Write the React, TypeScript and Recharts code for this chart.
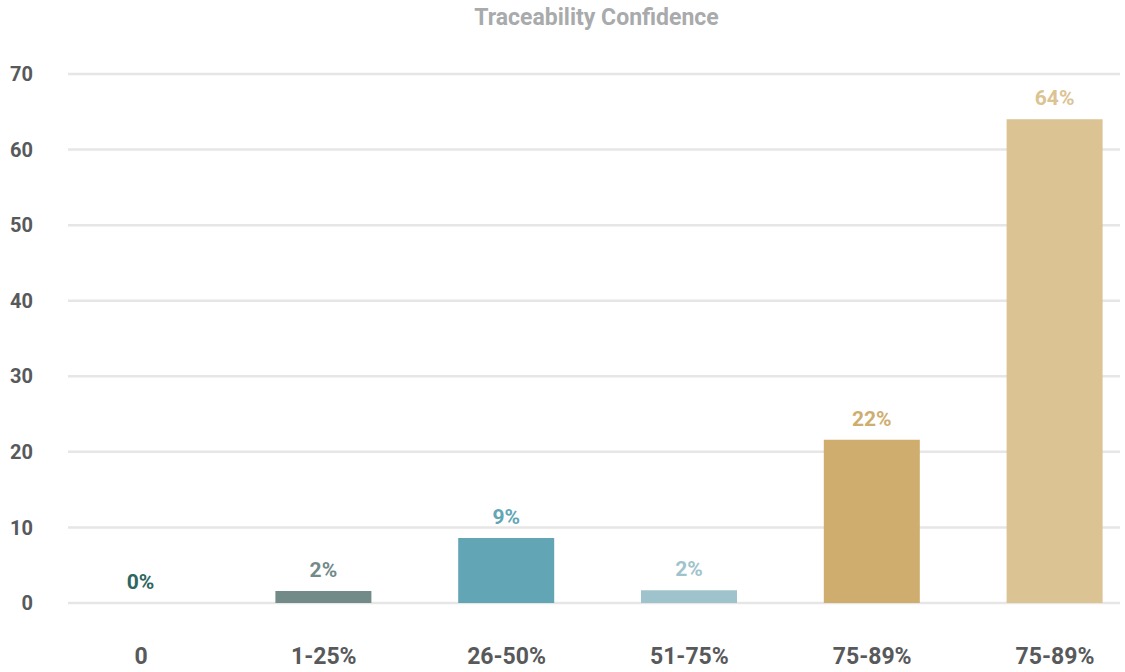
import React from "react";
import { BarChart, Bar, XAxis, YAxis, CartesianGrid, Cell, LabelList } from "recharts";

const categories = ["0", "1-25%", "26-50%", "51-75%", "75-89%", "75-89% "];
const values = [0, 1.6, 8.6, 1.7, 21.6, 64.0];
const valueLabels = ["0%", "2%", "9%", "2%", "22%", "64%"];
const barColors = ["#2e6660", "#728a88", "#62a6b5", "#9fc3cd", "#cead6f", "#dbc393"];
const yTicks = [0, 10, 20, 30, 40, 50, 60, 70];

const data = categories.map((c, i) => ({ name: c, value: values[i], idx: i }));

const FONT = "Roboto, 'DejaVu Sans', sans-serif";

const renderLabel = (props: any) => {
  const { x, y, width, value } = props;
  const i = Number(value);
  return (
    <text
      x={x + width / 2}
      y={y - 14}
      textAnchor="middle"
      fill={barColors[i]}
      fontFamily={FONT}
      fontWeight={700}
      fontSize={21}
    >
      {valueLabels[i]}
    </text>
  );
};

export default function App() {
  return (
    <div style={{ position: "absolute", left: 0, top: 0, width: 1125, height: 672, background: "#fff" }}>
      <div
        style={{
          position: "absolute",
          left: 0,
          top: 4,
          width: 1193,
          textAlign: "center",
          fontFamily: FONT,
          fontWeight: 700,
          fontSize: 23,
          color: "#a9aaac",
        }}
      >
        Traceability Confidence
      </div>
      <BarChart
        width={1125}
        height={672}
        data={data}
        margin={{ top: 74, right: 5, left: 0, bottom: 39 }}
        barSize={96}
      >
        <CartesianGrid vertical={false} stroke="#e6e6e6" strokeWidth={2.5} />
        <XAxis
          dataKey="name"
          axisLine={false}
          tickLine={false}
          tickSize={0}
          tickMargin={45}
          height={30}
          padding={{ left: -18.4, right: -26.4 }}
          tick={{ fill: "#58595b", fontFamily: FONT, fontWeight: 700, fontSize: 23 }}
          interval={0}
        />
        <YAxis
          domain={[0, 70]}
          ticks={yTicks}
          width={68}
          axisLine={false}
          tickLine={false}
          tickSize={0}
          tickMargin={35}
          tick={{ fill: "#58595b", fontFamily: FONT, fontWeight: 700, fontSize: 20 }}
        />
        <Bar dataKey="value" isAnimationActive={false} minPointSize={0.01}>
          {data.map((d, i) => (
            <Cell key={i} fill={barColors[i]} />
          ))}
          <LabelList dataKey="idx" content={renderLabel} />
        </Bar>
      </BarChart>
    </div>
  );
}
